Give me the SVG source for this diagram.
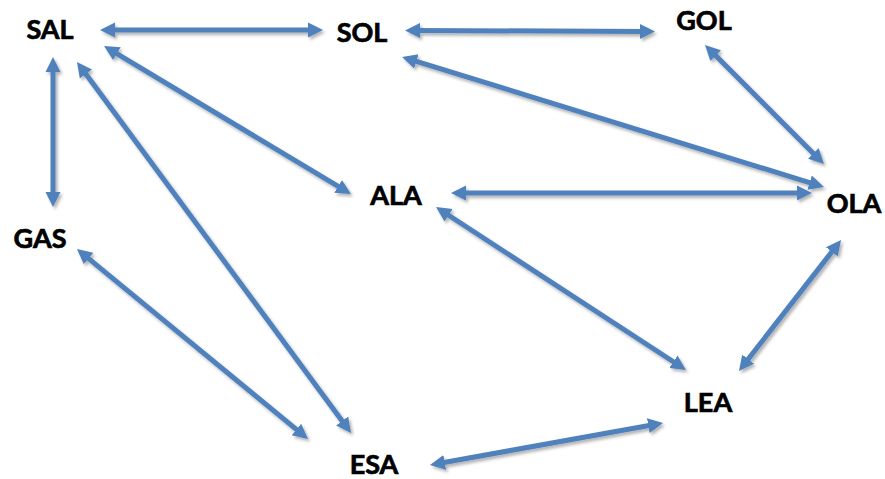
<svg xmlns="http://www.w3.org/2000/svg" width="885" height="479" viewBox="0 0 885 479">
  <defs>
    <style>
      .label { font-family: "Lato", "Liberation Sans", sans-serif; font-weight: 700; font-size: 27px; fill: #000; stroke: #000; stroke-width: 0.7; text-anchor: middle; }
      .edge { stroke: #4f81bd; stroke-width: 5; fill: none; marker-start: url(#head); marker-end: url(#head); }
    </style>
    <marker id="head" viewBox="0 -9 17 18" refX="5" refY="0" markerWidth="17" markerHeight="18" markerUnits="userSpaceOnUse" orient="auto-start-reverse">
      <path d="M0,-7.5 L15,0 L0,7.5 Z" fill="#4f81bd"/>
    </marker>
    <filter id="shadow" x="-10%" y="-10%" width="120%" height="120%">
      <feDropShadow dx="2" dy="2.5" stdDeviation="1.5" flood-color="#000" flood-opacity="0.3"/>
    </filter>
  </defs>
  <rect width="885" height="479" fill="#fff"/>

  <g id="connectors" filter="url(#shadow)">
    <line class="edge" x1="110" y1="30" x2="313" y2="30"/>
    <line class="edge" x1="415" y1="30.5" x2="645" y2="31.5"/>
    <line class="edge" x1="53" y1="67" x2="53" y2="197"/>
    <line class="edge" x1="112.6" y1="51.1" x2="342.4" y2="188.9"/>
    <line class="edge" x1="82.9" y1="70" x2="345.1" y2="425"/>
    <line class="edge" x1="84.7" y1="255.4" x2="300.3" y2="432.6"/>
    <line class="edge" x1="411.6" y1="59.9" x2="814.4" y2="184.1"/>
    <line class="edge" x1="712.1" y1="52.1" x2="816.9" y2="156.9"/>
    <line class="edge" x1="461" y1="193" x2="802" y2="193"/>
    <line class="edge" x1="444.4" y1="212.5" x2="677.6" y2="364.5"/>
    <line class="edge" x1="834.9" y1="247.9" x2="745.1" y2="363.1"/>
    <line class="edge" x1="439.8" y1="463.2" x2="653.2" y2="424.8"/>
  </g>

  <g id="SAL"><text class="label" x="50" y="39">SAL</text></g>
  <g id="SOL"><text class="label" x="362" y="42">SOL</text></g>
  <g id="GOL"><text class="label" x="704" y="30">GOL</text></g>
  <g id="GAS"><text class="label" x="40" y="248">GAS</text></g>
  <g id="ALA"><text class="label" x="396" y="205">ALA</text></g>
  <g id="OLA"><text class="label" x="854" y="213">OLA</text></g>
  <g id="LEA"><text class="label" x="708" y="412">LEA</text></g>
  <g id="ESA"><text class="label" x="374" y="474">ESA</text></g>
</svg>
